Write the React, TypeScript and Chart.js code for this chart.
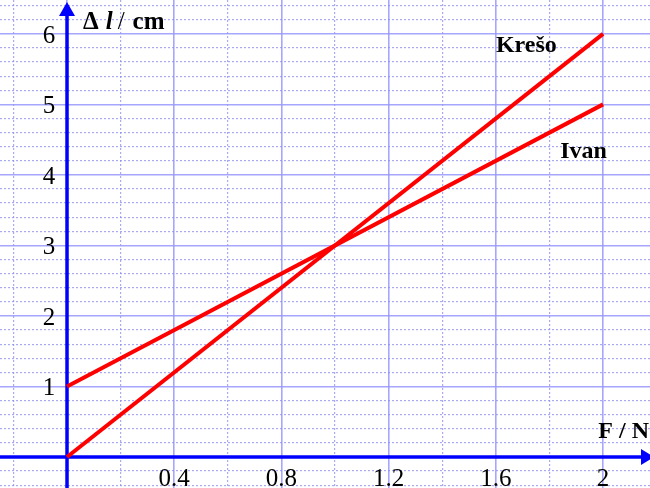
import React, { useEffect, useRef } from 'react';
import { Chart, registerables } from 'chart.js';

Chart.register(...registerables);

// Data
const forceN = [0, 2];
const kresoCm = [0, 6];
const ivanCm = [1, 5];
const xTickValues = [0.4, 0.8, 1.2, 1.6, 2];
const xTickLabels = ['0.4', '0.8', '1.2', '1.6', '2'];
const yTickValues = [1, 2, 3, 4, 5, 6];
const yTickLabels = ['1', '2', '3', '4', '5', '6'];
const seriesNames = ['Krešo', 'Ivan'];
const seriesLabelAt = [
  [1.6, 5.74],
  [1.84, 4.24],
];

const SERIF = '"Liberation Serif", "Times New Roman", serif';
const MAJOR = 'rgba(150,150,255,0.85)';
const MINOR = 'rgba(140,140,240,0.75)';

const isMultiple = (v: number, step: number) => {
  const r = v / step;
  return Math.abs(r - Math.round(r)) < 1e-6;
};

const overlay = {
  id: 'overlay',
  beforeDatasetsDraw(chart: any) {
    const { ctx } = chart;
    const xs = chart.scales.x;
    const ys = chart.scales.y;
    const x0 = xs.getPixelForValue(0);
    const y0 = ys.getPixelForValue(0);
    const W = chart.width;
    const H = chart.height;
    ctx.save();
    ctx.strokeStyle = '#0000ff';
    ctx.fillStyle = '#0000ff';
    ctx.lineWidth = 3.5;
    ctx.beginPath();
    ctx.moveTo(x0, H);
    ctx.lineTo(x0, 14);
    ctx.stroke();
    ctx.beginPath();
    ctx.moveTo(x0, 2);
    ctx.lineTo(x0 - 8, 16);
    ctx.lineTo(x0 + 8, 16);
    ctx.closePath();
    ctx.fill();
    ctx.beginPath();
    ctx.moveTo(0, y0);
    ctx.lineTo(W - 8, y0);
    ctx.stroke();
    ctx.beginPath();
    ctx.moveTo(W + 4, y0);
    ctx.lineTo(W - 9, y0 - 8);
    ctx.lineTo(W - 9, y0 + 8);
    ctx.closePath();
    ctx.fill();
    ctx.restore();
  },
  afterDatasetsDraw(chart: any) {
    const { ctx } = chart;
    const xs = chart.scales.x;
    const ys = chart.scales.y;
    const x0 = xs.getPixelForValue(0);
    const y0 = ys.getPixelForValue(0);
    ctx.save();
    ctx.fillStyle = '#000';
    ctx.font = `25px ${SERIF}`;
    ctx.textAlign = 'center';
    ctx.textBaseline = 'alphabetic';
    yTickValues.forEach((v, i) => {
      ctx.fillText(yTickLabels[i], x0 - 18, ys.getPixelForValue(v) + 9);
    });
    xTickValues.forEach((v, i) => {
      ctx.fillText(xTickLabels[i], xs.getPixelForValue(v), y0 + 29);
    });
    ctx.font = `bold 24px ${SERIF}`;
    ctx.textAlign = 'left';
    seriesNames.forEach((n, i) => {
      const [fx, fy] = seriesLabelAt[i];
      ctx.fillText(n, xs.getPixelForValue(fx), ys.getPixelForValue(fy));
    });
    // Axis titles
    const bY = 29;
    let cx = x0 + 16;
    ctx.font = `bold 25px ${SERIF}`;
    ctx.fillText('Δ', cx, bY);
    cx += ctx.measureText('Δ').width + 7;
    ctx.font = `italic bold 25px ${SERIF}`;
    ctx.fillText('l', cx, bY);
    cx += ctx.measureText('l').width + 5;
    ctx.font = `25px ${SERIF}`;
    ctx.fillText('/', cx, bY);
    cx += ctx.measureText('/').width + 8;
    ctx.font = `bold 25px ${SERIF}`;
    ctx.fillText('cm', cx, bY);

    ctx.font = `bold 24px ${SERIF}`;
    ctx.textAlign = 'right';
    ctx.fillText('F / N', chart.width - 1, y0 - 19);
    ctx.restore();
  },
};

const gridOpts = (step: number) => ({
  color: (c: any) => (c.tick && isMultiple(c.tick.value, step) ? MAJOR : MINOR),
  lineWidth: (c: any) => (c.tick && isMultiple(c.tick.value, step) ? 1.6 : 1.2),
  drawTicks: false,
});

export default function App() {
  const ref = useRef<HTMLCanvasElement>(null);
  useEffect(() => {
    if (!ref.current) return;
    const chart = new Chart(ref.current, {
      type: 'scatter',
      data: {
        datasets: [
          {
            label: seriesNames[0],
            data: forceN.map((f, i) => ({ x: f, y: kresoCm[i] })),
            showLine: true,
            borderColor: '#ff0000',
            borderWidth: 4,
            pointRadius: 0,
          },
          {
            label: seriesNames[1],
            data: forceN.map((f, i) => ({ x: f, y: ivanCm[i] })),
            showLine: true,
            borderColor: '#ff0000',
            borderWidth: 4,
            pointRadius: 0,
          },
        ],
      },
      options: {
        animation: false,
        responsive: false,
        layout: { padding: 0 },
        plugins: { legend: { display: false }, tooltip: { enabled: false } },
        scales: {
          x: {
            type: 'linear',
            min: -0.25,
            max: 2.175,
            afterBuildTicks: (s: any) => {
              const t = [];
              for (let k = -1; k <= 11; k++) t.push({ value: Math.round(k * 0.2 * 1000) / 1000 });
              s.ticks = t;
            },
            ticks: { display: false },
            grid: gridOpts(0.4) as any,
            border: {
              display: false,
              dash: (c: any) => (c.tick && isMultiple(c.tick.value, 0.4) ? [] : [2, 2]),
            } as any,
          },
          y: {
            type: 'linear',
            min: -0.44,
            max: 6.48,
            afterBuildTicks: (s: any) => {
              const t = [];
              for (let k = -2; k <= 32; k++) t.push({ value: Math.round(k * 0.2 * 1000) / 1000 });
              s.ticks = t;
            },
            ticks: { display: false },
            grid: gridOpts(1) as any,
            border: {
              display: false,
              dash: (c: any) => (c.tick && isMultiple(c.tick.value, 1) ? [] : [2, 2]),
            } as any,
          },
        },
      },
      plugins: [overlay],
    });
    return () => chart.destroy();
  }, []);
  return (
    <div style={{ position: 'absolute', left: 0, top: 0, width: 650, height: 488, background: '#fff' }}>
      <canvas ref={ref} width={650} height={488} style={{ display: 'block' }} />
    </div>
  );
}
